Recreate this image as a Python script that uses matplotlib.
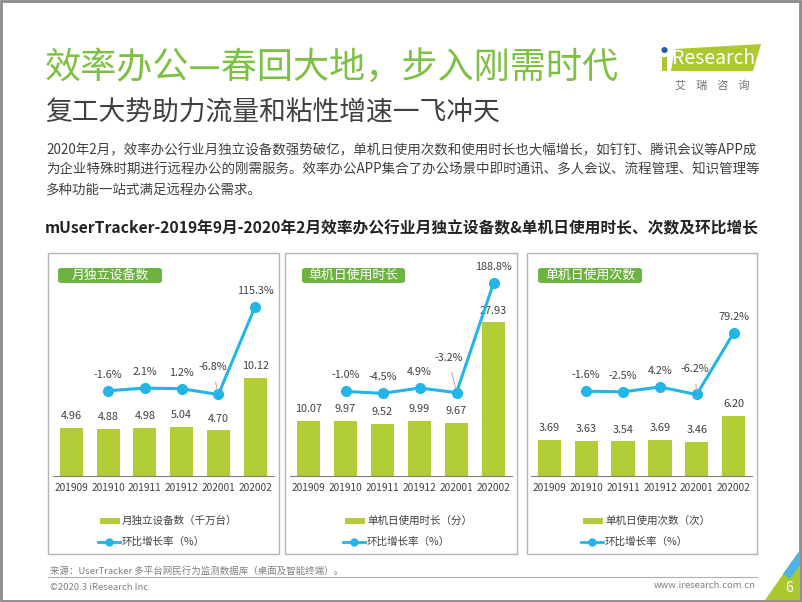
import matplotlib.pyplot as plt
from matplotlib.patches import Rectangle, FancyBboxPatch, Polygon
from matplotlib.lines import Line2D

plt.rcParams['font.family'] = ['Noto Sans CJK SC', 'DejaVu Sans']

W, H = 802, 602

# data
months = ["201909", "201910", "201911", "201912", "202001", "202002"]
devices = [4.96, 4.88, 4.98, 5.04, 4.70, 10.12]
devices_mom = [None, -1.6, 2.1, 1.2, -6.8, 115.3]
duration = [10.07, 9.97, 9.52, 9.99, 9.67, 27.93]
duration_mom = [None, -1.0, -4.5, 4.9, -3.2, 188.8]
times = [3.69, 3.63, 3.54, 3.69, 3.46, 6.20]
times_mom = [None, -1.6, -2.5, 4.2, -6.2, 79.2]

panel_titles = ["月独立设备数", "单机日使用时长", "单机日使用次数"]
bar_legends = ["月独立设备数（千万台）", "单机日使用时长（分）", "单机日使用次数（次）"]
line_legend = "环比增长率（%）"

GREEN = "#7dc142"
BAR = "#b1cd35"
LINE = "#22b5e6"
LABEL_BOX = "#6cb33f"
TXT = "#404040"
FS = 7.8


def fx(x):
    return x / W


def fy(y):
    return 1 - y / H


fig = plt.figure(figsize=(W / 100, H / 100), dpi=100)

# page frame
fig.patches.append(Rectangle((0.001, 0.002), 0.997, 0.996, transform=fig.transFigure,
                             fill=False, edgecolor="#8a8a8a", linewidth=2))

# headings
fig.text(fx(45), fy(68), "效率办公—春回大地，步入刚需时代", color=GREEN, fontsize=26,
         va="center", ha="left")
fig.text(fx(45), fy(113), "复工大势助力流量和粘性增速一飞冲天", color=TXT, fontsize=19.3,
         va="center", ha="left")
para = ["2020年2月，效率办公行业月独立设备数强势破亿，单机日使用次数和使用时长也大幅增长，如钉钉、腾讯会议等APP成",
        "为企业特殊时期进行远程办公的刚需服务。效率办公APP集合了办公场景中即时通讯、多人会议、流程管理、知识管理等",
        "多种功能一站式满足远程办公需求。"]
for i, line in enumerate(para):
    fig.text(fx(46), fy(150 + 20 * i), line, color=TXT, fontsize=9.7, va="center", ha="left")

fig.text(fx(402), fy(228),
         "mUserTracker-2019年9月-2020年2月效率办公行业月独立设备数&单机日使用时长、次数及环比增长",
         color="#222222", fontsize=11.3, fontweight="bold", va="center", ha="center")

# logo
fig.patches.append(Polygon([(fx(671), fy(71)), (fx(675), fy(49)), (fx(761), fy(44)), (fx(753), fy(71))],
                           closed=True, transform=fig.transFigure, facecolor="#a9c92f", edgecolor="none"))
fig.patches.append(Rectangle((fx(662), fy(71)), fx(5), fy(57) - fy(71), transform=fig.transFigure,
                             facecolor="#a9c92f", edgecolor="none"))
fig.text(fx(664.5), fy(51), "●", color="#1f5fae", fontsize=5, ha="center", va="center")
fig.text(fx(714), fy(59), "Research", color="white", fontsize=14, ha="center", va="center")
fig.text(fx(712), fy(85), "艾    瑞    咨    询", color="#707070", fontsize=8, ha="center", va="center")

# panels
panels = [
    dict(box=(48, 279), axx=(53, 273.5), ymax=22.3, lim=(-120, 180), bars=devices, mom=devices_mom,
         label_box=(58, 162), leg_x=100, lead=(-6, 27)),
    dict(box=(285, 517), axx=(290, 512), ymax=39.3, lim=(-149.5, 229.5), bars=duration, mom=duration_mom,
         label_box=(302, 405), leg_x=345, lead=(-8, 35)),
    dict(box=(527, 757), axx=(531, 752), ymax=22.15, lim=(-119.4, 180.6), bars=times, mom=times_mom,
         label_box=(538, 642), leg_x=583, lead=(-2, 25)),
]

top_px, base_px = 260, 476
for k, p in enumerate(panels):
    b0, b1 = p["box"]
    fig.patches.append(Rectangle((fx(b0), fy(554)), fx(b1 - b0), fy(253) - fy(554),
                                 transform=fig.transFigure, fill=False, edgecolor="#b5b5b5", linewidth=1))
    l0, l1 = p["label_box"]
    fig.patches.append(FancyBboxPatch((fx(l0), fy(283)), fx(l1 - l0), fy(268) - fy(283),
                                      boxstyle="round,pad=0,rounding_size=0.004",
                                      transform=fig.transFigure, facecolor=LABEL_BOX, edgecolor="none"))
    fig.text(fx((l0 + l1) / 2), fy(275.5), panel_titles[k], color="white", fontsize=9.3,
             ha="center", va="center")

    a0, a1 = p["axx"]
    ax = fig.add_axes([fx(a0), fy(base_px), fx(a1 - a0), fy(top_px) - fy(base_px)])
    ax.patch.set_alpha(0)
    xs = list(range(len(months)))
    ax.bar(xs, p["bars"], width=0.63, color=BAR, zorder=2)
    for x, v in zip(xs, p["bars"]):
        ax.annotate(f"{v:.2f}", (x, v), xytext=(0, 5), textcoords="offset points",
                    ha="center", va="bottom", fontsize=FS, color=TXT)
    ax.set_xlim(-0.5, len(months) - 0.5)
    ax.set_ylim(0, p["ymax"])
    ax.set_xticks(xs)
    ax.set_xticklabels(months, fontsize=7.3, color=TXT)
    ax.tick_params(axis="x", length=0, pad=5)
    ax.set_yticks([])
    for s in ["top", "right", "left"]:
        ax.spines[s].set_visible(False)
    ax.spines["bottom"].set_color("#808080")

    ax2 = ax.twinx()
    ax2.set_ylim(*p["lim"])
    lx = [x for x, v in zip(xs, p["mom"]) if v is not None]
    ly = [v for v in p["mom"] if v is not None]
    ax2.plot(lx, ly, color=LINE, linewidth=2.2, marker="o", markersize=7, zorder=3)
    for i, (x, v) in enumerate(zip(lx, ly)):
        if i == 3:
            dx, dy = p["lead"]
            ax2.annotate(f"{v:.1f}%", (x, v), xytext=(dx, dy), textcoords="offset pixels",
                         ha="center", va="center", fontsize=FS, color=TXT,
                         arrowprops=dict(arrowstyle="-", color="#c8a08c", lw=0.7, shrinkA=5, shrinkB=3))
        else:
            ax2.annotate(f"{v:.1f}%", (x, v), xytext=(0, 16), textcoords="offset pixels",
                         ha="center", va="center", fontsize=FS, color=TXT)
    ax2.set_yticks([])
    for s in ax2.spines.values():
        s.set_visible(False)

    # legend
    lx0 = p["leg_x"]
    fig.patches.append(Rectangle((fx(lx0), fy(524)), fx(20), fy(518) - fy(524),
                                 transform=fig.transFigure, facecolor=BAR, edgecolor="none"))
    fig.text(fx(lx0 + 22), fy(521), bar_legends[k], color=TXT, fontsize=7.6, ha="left", va="center")
    fig.lines.append(Line2D([fx(lx0 - 2), fx(lx0 + 20)], [fy(542), fy(542)], transform=fig.transFigure,
                            color=LINE, linewidth=2, marker=None))
    fig.lines.append(Line2D([fx(lx0 + 9)], [fy(542)], transform=fig.transFigure, color=LINE,
                            marker="o", markersize=5))
    fig.text(fx(lx0 + 22), fy(542), line_legend, color=TXT, fontsize=7.6, ha="left", va="center")

# footer
fig.text(fx(50), fy(571), "来源：UserTracker 多平台网民行为监测数据库（桌面及智能终端）。", color="#808080",
         fontsize=6.8, ha="left", va="center")
fig.lines.append(Line2D([fx(48), fx(757)], [fy(577), fy(577)], transform=fig.transFigure,
                        color="#b0b0b0", linewidth=0.8))
fig.text(fx(50), fy(587), "©2020.3 iResearch Inc.", color="#808080", fontsize=6.8, ha="left", va="center")
fig.text(fx(756), fy(585), "www.iresearch.com.cn", color="#808080", fontsize=6.8, ha="right", va="center")

# page corner
fig.patches.append(Polygon([(fx(765), fy(600)), (fx(800), fy(550)), (fx(800), fy(600))], closed=True,
                           transform=fig.transFigure, facecolor="#a9c92f", edgecolor="none"))
fig.patches.append(Polygon([(fx(783), fy(574)), (fx(800), fy(550)), (fx(800), fy(565)), (fx(790), fy(579))],
                           closed=True, transform=fig.transFigure, facecolor="#4fb3e3", edgecolor="none"))
fig.text(fx(789), fy(588), "6", color="white", fontsize=10, ha="center", va="center")

fig.savefig("out.png", dpi=100)
